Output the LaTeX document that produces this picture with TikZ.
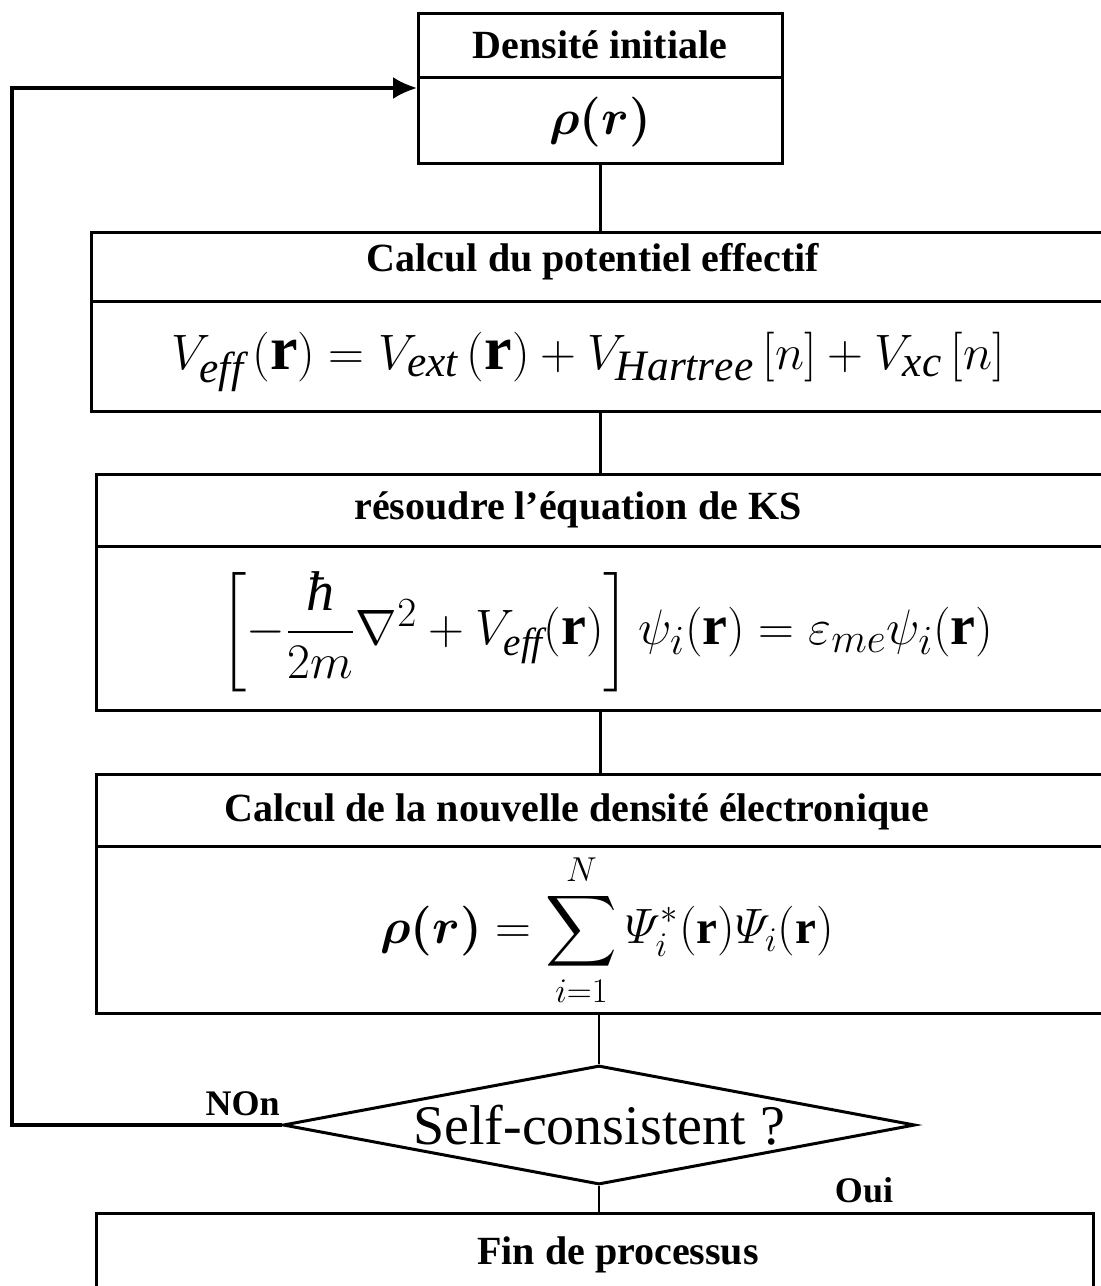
\documentclass[tikz,border=0pt]{standalone}
\usepackage{amsmath}
\usepackage{fontspec}
\setmainfont{Liberation Serif}
\usetikzlibrary{arrows.meta,positioning,shapes.geometric}

\begin{document}
\begin{tikzpicture}[x=0.5pt,y=-0.5pt,>={Latex[length=12pt,width=11pt]},
  part/.style={draw,line width=1.5pt,inner sep=0pt,anchor=north west},
  head/.style={inner sep=0pt,font=\fontsize{20}{24}\selectfont\bfseries},
  eq/.style={inner sep=0pt,font=\fontsize{28}{32}\selectfont},
  lab/.style={inner sep=0pt,font=\fontsize{18}{22}\selectfont\bfseries},
  link/.style={line width=1.2pt},
  back/.style={line width=1.6pt}]
\useasboundingbox (0,0) rectangle (1101,1286);
\clip (0,0) rectangle (1101,1286);
% initial density
\node[part,minimum width=182pt,minimum height=32pt] (h1) at (417,12) {};
\node[part,minimum width=182pt,minimum height=43pt] (b1) at (417,76) {};
\node[head] (t1) at (600,45) {Densité initiale};
\node[eq] (f1) at (600,122) {$\boldsymbol{\rho(r)}$};
% effective potential
\node[part,minimum width=515pt,minimum height=34.5pt] (h2) at (90,231) {};
\node[part,minimum width=515pt,minimum height=55pt] (b2) at (90,300) {};
\node[head] (t2) at (593,262) {Calcul du potentiel effectif};
\node[eq,font=\fontsize{31}{36}\selectfont] (f2) at (588,362)
  {$V_{\mathit{eff}}\,(\mathbf{r})=V_{\mathit{ext}}\,(\mathbf{r})+V_{\mathit{Hartree}}\,[n]+V_{\mathit{xc}}\,[n]$};
% KS equation
\node[part,minimum width=512.5pt,minimum height=36pt] (h3) at (95,473) {};
\node[part,minimum width=512.5pt,minimum height=82pt] (b3) at (95,545) {};
\node[head] (t3) at (578,510) {résoudre l'équation de KS};
\node[eq] (f3) at (607,632)
  {$\left[-\dfrac{\textit{ħ}}{2m}\nabla^{2}+V_{\mathit{eff}}(\mathbf{r})\right]\psi_{i}(\mathbf{r})=\varepsilon_{me}\psi_{i}(\mathbf{r})$};
% new density
\node[part,minimum width=512.5pt,minimum height=36pt] (h4) at (95,773) {};
\node[part,minimum width=512.5pt,minimum height=83.5pt] (b4) at (95,845) {};
\node[head] (t4) at (577,812) {Calcul de la nouvelle densité électronique};
\node[eq,font=\fontsize{23.5}{28}\selectfont] (f4) at (607,930)
  {$\boldsymbol{\rho(r)}=\displaystyle\sum_{i=1}^{N}\varPsi_{i}^{*}(\mathbf{r})\varPsi_{i}(\mathbf{r})$};
% convergence test
\node[draw,diamond,line width=1.5pt,aspect=5.3,inner sep=0pt,minimum width=316pt,minimum height=59.5pt,
  font=\fontsize{28}{32}\selectfont] (test) at (599,1125) {Self-consistent ?};
\node[lab,anchor=south east] (non) at (280,1116) {NOn};
\node[lab] (oui) at (864,1190) {Oui};
% end
\node[part,minimum width=498.5pt,minimum height=50pt] (h5) at (95,1212) {};
\node[head] (t5) at (618,1255) {Fin de processus};
% connectors
\draw[link] (b1.south) -- (b1.south |- h2.north);
\draw[link] (b1.south |- b2.south) -- (b1.south |- h3.north);
\draw[link] (b1.south |- b3.south) -- (b1.south |- h4.north);
\draw[link] (test.north |- b4.south) -- (test.north);
\draw[link] (test.south) -- (test.south |- h5.north);
\coordinate (corner) at (12,1125);
\coordinate (entry) at (417,88);
\draw[back,->] (test.west) -- (corner) |- (entry);
\end{tikzpicture}
\end{document}
